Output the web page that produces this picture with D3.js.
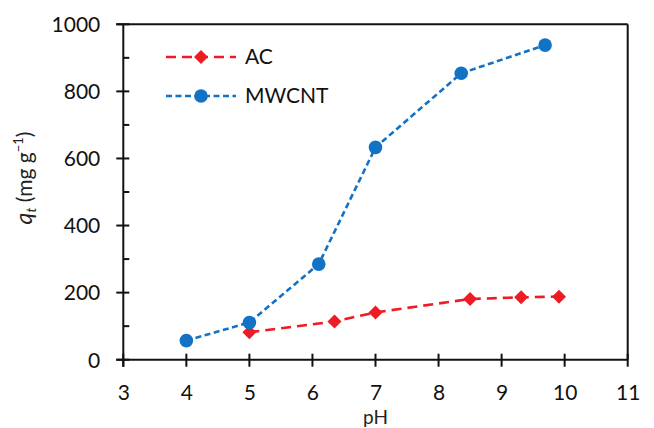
<!DOCTYPE html>
<html>
<head>
<meta charset="utf-8">
<script src="https://cdn.jsdelivr.net/npm/d3@7"></script>
<style>
  html, body { margin: 0; padding: 0; background: #fff; }
  svg { display: block; font-family: Lato, "Open Sans", sans-serif; }
</style>
</head>
<body>
<svg id="chart" width="654" height="428"></svg>
<script>
// Adsorption capacity vs. solution pH for two adsorbents
const acPH = [5.0, 6.35, 7.0, 8.5, 9.31, 9.91];
const acQt = [82, 114, 141, 181, 186, 188];
const mwcntPH = [4.0, 5.0, 6.1, 7.0, 8.36, 9.69];
const mwcntQt = [57, 111, 285, 633, 854, 938];

const xTicks = [3, 4, 5, 6, 7, 8, 9, 10, 11];
const yTicks = [0, 200, 400, 600, 800, 1000];
const yMinorTicks = [100, 300, 500, 700, 900];

const AC_COLOR = "#ED1C24";
const MW_COLOR = "#1272C6";
const FONT = "Lato, 'Open Sans', sans-serif";

const svg = d3.select("#chart");
const plotLeft = 123.3, plotRight = 627.7, plotTop = 24.3, plotBottom = 359.7;

const x = d3.scaleLinear().domain([3, 11]).range([plotLeft, plotRight]);
const y = d3.scaleLinear().domain([0, 1000]).range([plotBottom, plotTop]);

const frame = svg.append("g").attr("stroke", "#111").attr("stroke-width", 2);

// plot frame
frame.append("line").attr("x1", plotLeft - 7).attr("x2", plotRight).attr("y1", plotTop).attr("y2", plotTop);
frame.append("line").attr("x1", plotRight).attr("x2", plotRight).attr("y1", plotTop).attr("y2", plotBottom);

// x axis: ticks cross the axis line
const xAxis = d3.axisBottom(x).tickValues(xTicks).tickSize(0).tickPadding(0).tickFormat(d3.format("d"));
const gx = svg.append("g").attr("transform", `translate(0,${plotBottom})`).call(xAxis);
gx.select(".domain").remove();
gx.selectAll(".tick text").attr("dy", null).attr("y", 40).attr("font-size", 21)
  .attr("fill", "#111").attr("font-family", FONT);
frame.append("line").attr("x1", plotLeft - 7).attr("x2", plotRight).attr("y1", plotBottom).attr("y2", plotBottom);
frame.selectAll(".xt").data(xTicks).join("line")
  .attr("x1", d => x(d)).attr("x2", d => x(d))
  .attr("y1", plotBottom - 6).attr("y2", plotBottom + 7);

// y axis
const yAxis = d3.axisLeft(y).tickValues(yTicks).tickSize(0).tickPadding(0).tickFormat(d3.format("d"));
const gy = svg.append("g").attr("transform", `translate(${plotLeft},0)`).call(yAxis);
gy.select(".domain").remove();
gy.selectAll(".tick text").attr("x", -23).attr("dy", "0.35em").attr("font-size", 21)
  .attr("fill", "#111").attr("font-family", FONT);
frame.append("line").attr("x1", plotLeft).attr("x2", plotLeft).attr("y1", plotTop).attr("y2", plotBottom + 7);
frame.selectAll(".yt").data(yTicks).join("line")
  .attr("x1", plotLeft - 7).attr("x2", plotLeft + 6)
  .attr("y1", d => y(d)).attr("y2", d => y(d));
frame.selectAll(".ym").data(yMinorTicks).join("line")
  .attr("x1", plotLeft).attr("x2", plotLeft + 6)
  .attr("y1", d => y(d)).attr("y2", d => y(d));

// axis titles
svg.append("text").attr("x", x(7)).attr("y", 424).attr("text-anchor", "middle")
  .attr("font-size", 19).attr("fill", "#222").text("pH");

const yl = svg.append("text")
  .attr("transform", "translate(32,178) rotate(-90)")
  .attr("text-anchor", "middle").attr("font-size", 21).attr("fill", "#222");
yl.append("tspan").attr("font-style", "italic").attr("font-size", 23).text("q");
yl.append("tspan").attr("font-style", "italic").attr("font-size", 14).attr("dy", 4).text("t");
yl.append("tspan").attr("dy", -4).text(" (mg g");
yl.append("tspan").attr("font-size", 13).attr("dy", -9).text("−1");
yl.append("tspan").attr("dy", 9).text(")");

// series
const line = d3.line().x(d => x(d[0])).y(d => y(d[1]));
const acData = acPH.map((p, i) => [p, acQt[i]]);
const mwData = mwcntPH.map((p, i) => [p, mwcntQt[i]]);

const diamond = d3.symbol().type(d3.symbolDiamond2).size(125);

svg.append("path").datum(acData).attr("d", line).attr("fill", "none")
  .attr("stroke", AC_COLOR).attr("stroke-width", 2.6).attr("stroke-dasharray", "10,6");
svg.append("path").datum(mwData).attr("d", line).attr("fill", "none")
  .attr("stroke", MW_COLOR).attr("stroke-width", 2.6).attr("stroke-dasharray", "6,3.5");

svg.selectAll(".ac").data(acData).join("path")
  .attr("transform", d => `translate(${x(d[0])},${y(d[1])})`)
  .attr("d", diamond).attr("fill", AC_COLOR);
svg.selectAll(".mw").data(mwData).join("circle")
  .attr("cx", d => x(d[0])).attr("cy", d => y(d[1])).attr("r", 6.8).attr("fill", MW_COLOR);

// legend
const legend = [
  { name: "AC", color: AC_COLOR, dash: "10,6", shape: "diamond", yy: 57 },
  { name: "MWCNT", color: MW_COLOR, dash: "6,3.5", shape: "circle", yy: 96 }
];
const lg = svg.append("g");
legend.forEach(l => {
  lg.append("line").attr("x1", 166).attr("x2", 236).attr("y1", l.yy).attr("y2", l.yy)
    .attr("stroke", l.color).attr("stroke-width", 2.6).attr("stroke-dasharray", l.dash);
  if (l.shape === "diamond") {
    lg.append("path").attr("transform", `translate(201,${l.yy})`).attr("d", diamond).attr("fill", l.color);
  } else {
    lg.append("circle").attr("cx", 201).attr("cy", l.yy).attr("r", 6.8).attr("fill", l.color);
  }
  lg.append("text").attr("x", 245).attr("y", l.yy).attr("dy", "0.35em")
    .attr("font-size", 21).attr("fill", "#111").text(l.name);
});
</script>
</body>
</html>
